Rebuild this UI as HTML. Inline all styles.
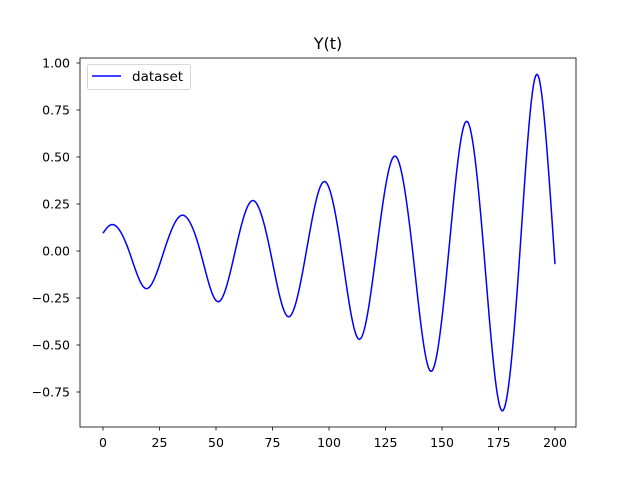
<!DOCTYPE html>
<html><head><meta charset="utf-8"><style>
html,body{margin:0;padding:0;background:#fff;}
svg{display:block;font-family:"DejaVu Sans","Liberation Sans",sans-serif;}
</style></head><body>
<svg id="chart" width="640" height="480" viewBox="0 0 640 480">
<rect width="640" height="480" fill="#fff"/>
<text x="328" y="49" font-size="16" text-anchor="middle" fill="#000">Y(t)</text>
<g id="axes"></g>
<path id="line" fill="none" stroke="#0000ff" stroke-width="1.5" stroke-linejoin="round"/>
<rect x="80" y="58" width="496" height="369" fill="none" stroke="#000" stroke-width="0.8"/>
<g>
<rect x="87.5" y="64.5" width="103" height="25" rx="2" fill="#fff" fill-opacity="0.8" stroke="#ccc" stroke-width="0.8"/>
<line x1="92" y1="76" x2="121" y2="76" stroke="#0000ff" stroke-width="1.5"/>
<text x="132" y="81" font-size="13.5" fill="#000">dataset</text>
</g>
</svg>
<script>
const tValues=[0,3.2,11.5,19,27,34.8,43,51,58.5,66,74,82,90,98,105.5,113.5,121,129,137,145,153,160.8,168.5,176.5,184.5,192,197,200];
const yValues=[0.095,0.138,0,-0.20,0,0.19,0,-0.27,0,0.268,0,-0.35,0,0.37,0,-0.47,0,0.505,0,-0.64,0,0.69,0,-0.85,0,0.94,0.45,-0.07];
const xTicks=[0,25,50,75,100,125,150,175,200];
const yTicks=[-0.75,-0.5,-0.25,0,0.25,0.5,0.75,1.0];
const yTickLabels=["−0.75","−0.50","−0.25","0.00","0.25","0.50","0.75","1.00"];

const X=t=>103+t*(555-103)/200;
const Y=v=>251-v*188;
const NS="http://www.w3.org/2000/svg";
const axes=document.getElementById('axes');
function mk(tag,attrs){const e=document.createElementNS(NS,tag);for(const k in attrs)e.setAttribute(k,attrs[k]);return e;}
xTicks.forEach(t=>{
  const l=mk('line',{x1:X(t),x2:X(t),y1:427,y2:430.5,stroke:'#000','stroke-width':0.8});
  
  
  axes.appendChild(l);
  const tx=mk('text',{x:X(t),y:447,'font-size':12.5,'text-anchor':'middle'});
  tx.textContent=String(t);
  
  
  axes.appendChild(tx);
});
yTicks.forEach((v,i)=>{
  const l=mk('line',{x1:76.5,x2:80,y1:Y(v),y2:Y(v),stroke:'#000','stroke-width':0.8});
  
  
  axes.appendChild(l);
  const tx=mk('text',{x:70,y:Y(v)+4.5,'font-size':12.5,'text-anchor':'end'});
  tx.textContent=yTickLabels[i];
  
  
  axes.appendChild(tx);
});
function spline(xs,ys){
  const n=xs.length,h=[],a=[],l=[1],mu=[0],z=[0],c=new Array(n).fill(0),b=[],d=[];
  for(let i=0;i<n-1;i++)h.push(xs[i+1]-xs[i]);
  for(let i=1;i<n-1;i++)a[i]=3/h[i]*(ys[i+1]-ys[i])-3/h[i-1]*(ys[i]-ys[i-1]);
  for(let i=1;i<n-1;i++){l[i]=2*(xs[i+1]-xs[i-1])-h[i-1]*mu[i-1];mu[i]=h[i]/l[i];z[i]=(a[i]-h[i-1]*z[i-1])/l[i];}
  l[n-1]=1;z[n-1]=0;
  for(let j=n-2;j>=0;j--){c[j]=z[j]-mu[j]*c[j+1];b[j]=(ys[j+1]-ys[j])/h[j]-h[j]*(c[j+1]+2*c[j])/3;d[j]=(c[j+1]-c[j])/(3*h[j]);}
  return t=>{let j=0;while(j<n-2&&t>xs[j+1])j++;const dx=t-xs[j];return ys[j]+b[j]*dx+c[j]*dx*dx+d[j]*dx*dx*dx;};
}
const f=spline(tValues,yValues);
let dstr='';
const t0=tValues[0],t1=tValues[tValues.length-1];
for(let t=t0;t<=t1+1e-9;t+=0.5){dstr+=(dstr?'L':'M')+X(t).toFixed(2)+','+Y(f(t)).toFixed(2);}
document.getElementById('line').setAttribute('d',dstr);
</script>
</body></html>
